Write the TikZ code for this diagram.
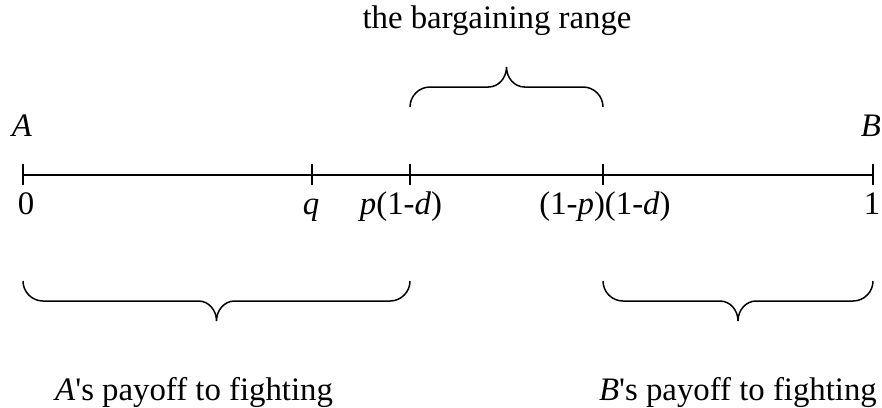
\documentclass[tikz,border=0pt]{standalone}
\usepackage{fontspec}
\setmainfont{Liberation Serif}[Ligatures=TeXOff]
\usetikzlibrary{calc}
\newcommand\mybrace[3]{%
  \coordinate (bm) at ($(#1)!0.5!(#2)$);
  \draw[bracestyle] (#1)
    .. controls ($(#1)+(0,{11*(#3)})$) and ($(#1)+(9,{20*(#3)})$) .. ($(#1)+(20,{20*(#3)})$)
    -- ($(bm)+(-18,{20*(#3)})$)
    .. controls ($(bm)+(-8,{20*(#3)})$) and ($(bm)+(0,{29*(#3)})$) .. ($(bm)+(0,{40*(#3)})$)
    .. controls ($(bm)+(0,{29*(#3)})$) and ($(bm)+(8,{20*(#3)})$) .. ($(bm)+(18,{20*(#3)})$)
    -- ($(#2)+(-20,{20*(#3)})$)
    .. controls ($(#2)+(-9,{20*(#3)})$) and ($(#2)+(0,{11*(#3)})$) .. (#2);
}
\begin{document}
\begin{tikzpicture}[x=1pt,y=-1pt,
  axis/.style={line width=1.5pt},
  bracestyle/.style={line width=1.5pt},
  lbl/.style={font=\fontsize{32.8}{38}\selectfont, inner sep=0pt, anchor=base},
  lblw/.style={lbl, anchor=base west}]
\useasboundingbox (0,0) rectangle (882,407);
% ticks on the line
\coordinate (t0) at (23,175);
\coordinate (tq) at (312,175);
\coordinate (tp) at (410,175);
\coordinate (tr) at (603,175);
\coordinate (t1) at (873,175);
\draw[axis] (t0) -- (t1);
\foreach \c in {t0,tq,tp,tr,t1}
  \draw[axis] ([yshift=11pt]\c) -- ([yshift=-10pt]\c);
% labels
\node[lbl] (title) at (497,28) {the bargaining range};
\node[lbl] (la) at (22,136) {\textit{A}};
\node[lbl] (lb) at (871,136) {\textit{B}};
\node[lbl] (l0) at (26,214) {0};
\node[lbl] (lq) at (311,214) {\textit{q}};
\node[lbl] (lp) at (401,214) {\textit{p}(1-\textit{d})};
\node[lbl] (lr) at (605,214) {(1-\textit{p})(1-\textit{d})};
\node[lbl] (l1) at (872,214) {1};
\node[lblw] (pa) at (55,400) {\textit{A}'s payoff to fighting};
\node[lblw] (pb) at (599,400) {\textit{B}'s payoff to fighting};
% braces
\coordinate (ta1) at (410,107);
\coordinate (ta2) at (603,107);
\mybrace{ta1}{ta2}{-1}
\coordinate (ba1) at (23,281);
\coordinate (ba2) at (410,281);
\mybrace{ba1}{ba2}{1}
\coordinate (bb1) at (603,281);
\coordinate (bb2) at (873,281);
\mybrace{bb1}{bb2}{1}
\end{tikzpicture}
\end{document}
